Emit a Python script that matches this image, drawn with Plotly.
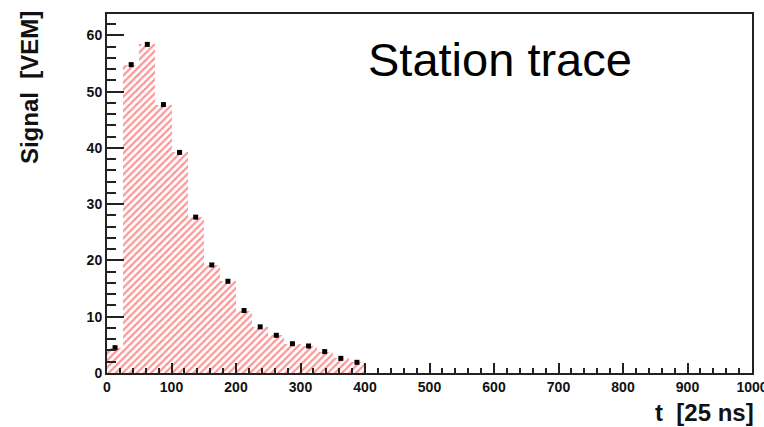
import plotly.graph_objects as go

# Binned station signal (bin width 25 in units of 25 ns)
bin_width = 25
bin_centers = [12.5, 37.5, 62.5, 87.5, 112.5, 137.5, 162.5, 187.5,
               212.5, 237.5, 262.5, 287.5, 312.5, 337.5, 362.5, 387.5]
signal_vem = [4.5, 54.8, 58.4, 47.7, 39.2, 27.7, 19.2, 16.3,
              11.1, 8.2, 6.7, 5.2, 4.8, 3.8, 2.6, 1.9]

x_tick_vals = [0, 100, 200, 300, 400, 500, 600, 700, 800, 900, 1000]
y_tick_vals = [0, 10, 20, 30, 40, 50, 60]

title_text = "Station trace"
x_title = "t\u00a0 [25 ns]"
y_title = "Signal\u00a0 [VEM]"

FONT = "Liberation Sans, Arial, Helvetica, sans-serif"
AXIS_COLOR = "#222222"

fig = go.Figure()

# hatched histogram
fig.add_trace(go.Bar(
    x=bin_centers,
    y=signal_vem,
    width=[bin_width] * len(bin_centers),
    marker=dict(
        color="rgba(0,0,0,0)",
        line=dict(width=0),
        pattern=dict(shape="/", fgcolor="rgba(255,25,25,0.95)",
                     bgcolor="rgba(0,0,0,0)", size=5, solidity=0.42),
    ),
    showlegend=False,
    hoverinfo="skip",
))

# bin contents as black squares
fig.add_trace(go.Scatter(
    x=bin_centers,
    y=signal_vem,
    mode="markers",
    marker=dict(symbol="square", size=5, color="black"),
    showlegend=False,
))

tickfont = dict(family=FONT, size=14, color="#111111", weight="bold")

fig.update_xaxes(
    range=[0, 1000],
    tickvals=x_tick_vals,
    ticks="inside", ticklen=10, tickwidth=1.5, tickcolor=AXIS_COLOR,
    minor=dict(dtick=20, ticks="inside", ticklen=5, tickwidth=1.5,
               tickcolor=AXIS_COLOR, showgrid=False),
    showline=True, linecolor=AXIS_COLOR, linewidth=2, mirror=True,
    showgrid=False, zeroline=False,
    tickfont=tickfont, ticklabeloverflow="allow", automargin=False,
)
fig.update_yaxes(
    range=[0, 63.8],
    tickvals=y_tick_vals,
    ticks="inside", ticklen=17, tickwidth=1.5, tickcolor=AXIS_COLOR,
    minor=dict(dtick=2, ticks="inside", ticklen=9, tickwidth=1.5,
               tickcolor=AXIS_COLOR, showgrid=False),
    showline=True, linecolor=AXIS_COLOR, linewidth=2, mirror=True,
    showgrid=False, zeroline=False,
    tickfont=tickfont, automargin=False,
)

fig.add_annotation(
    text=title_text, xref="paper", yref="paper",
    x=0.61, y=0.872, xanchor="center", yanchor="middle",
    showarrow=False,
    font=dict(family=FONT, size=47, color="black"),
)
fig.add_annotation(
    text=x_title, xref="paper", yref="paper",
    x=1.006, y=-0.111, xanchor="right", yanchor="middle",
    showarrow=False,
    font=dict(family=FONT, size=24, color="#111111", weight="bold"),
)
fig.add_annotation(
    text=y_title, xref="paper", yref="paper",
    x=-0.119, y=1.013, xanchor="center", yanchor="top",
    textangle=-90, showarrow=False,
    font=dict(family=FONT, size=24, color="#111111", weight="bold"),
)

fig.update_layout(
    width=764, height=427,
    margin=dict(l=107, r=12, t=14, b=54, autoexpand=False),
    paper_bgcolor="white", plot_bgcolor="white",
    bargap=0,
)

fig.write_html("out.html")
